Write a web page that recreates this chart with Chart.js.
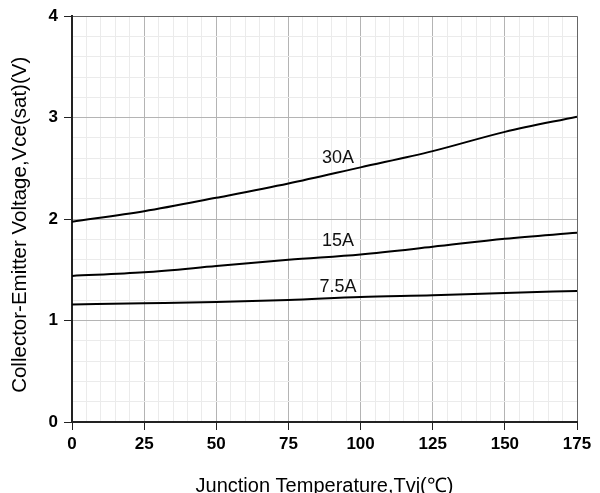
<!DOCTYPE html>
<html>
<head>
<meta charset="utf-8">
<script src="https://cdn.jsdelivr.net/npm/chart.js@4/dist/chart.umd.min.js"></script>
<style>
  html, body { margin: 0; padding: 0; background: #fff; }
  #wrap { width: 600px; height: 493px; }
</style>
</head>
<body>
<div id="wrap"><canvas id="vceChart"></canvas></div>
<script>
const temps = [0, 25, 50, 75, 100, 125, 150, 175];
const vce30A = [1.975, 2.077, 2.21, 2.35, 2.51, 2.67, 2.86, 3.01];
const vce15A = [1.44, 1.475, 1.537, 1.60, 1.652, 1.727, 1.806, 1.865];
const vce7A5 = [1.158, 1.17, 1.183, 1.203, 1.233, 1.249, 1.272, 1.292];
const seriesNames = ["30A", "15A", "7.5A"];
const labelX = [92.2, 92.2, 92.2];
const labelY = [2.606, 1.779, 1.331];

Chart.defaults.font.family = "'Liberation Sans', Arial, sans-serif";
Chart.defaults.color = "#000";

const toPoints = (ys) => temps.map((t, i) => ({ x: t, y: ys[i] }));

const isMajor = (v, step) => Math.abs(v / step - Math.round(v / step)) < 1e-6;

const curveLabels = {
	id: "curveLabels",
	afterDatasetsDraw(chart) {
		const { ctx, scales } = chart;
		ctx.save();
		ctx.font = "18px 'Liberation Sans', Arial, sans-serif";
		ctx.fillStyle = "#111";
		ctx.textAlign = "center";
		ctx.textBaseline = "middle";
		seriesNames.forEach((name, i) => {
			ctx.fillText(name, scales.x.getPixelForValue(labelX[i]), scales.y.getPixelForValue(labelY[i]));
		});
		ctx.restore();
	},
};

const lineStyle = {
	borderColor: "#000",
	borderWidth: 2,
	pointRadius: 0,
	tension: 0.4,
	cubicInterpolationMode: "monotone",
	fill: false,
};

new Chart("vceChart", {
	type: "line",
	data: {
		datasets: [
			{ label: "30A", data: toPoints(vce30A), ...lineStyle },
			{ label: "15A", data: toPoints(vce15A), ...lineStyle },
			{ label: "7.5A", data: toPoints(vce7A5), ...lineStyle },
		],
	},
	options: {
		responsive: true,
		maintainAspectRatio: false,
		animation: false,
		layout: { padding: { top: 15, right: 23, left: 0, bottom: 0 } },
		plugins: { legend: { display: false }, tooltip: { enabled: false } },
		scales: {
			x: {
				type: "linear",
				min: 0,
				max: 175,
				afterFit: (scale) => { scale.height = 71; },
				ticks: {
					stepSize: 5,
					autoSkip: false,
					maxRotation: 0,
					padding: 4,
					font: { size: 17, weight: "bold" },
					callback: (v) => (isMajor(v, 25) ? v : ""),
				},
				grid: {
					color: (c) => {
						const v = c.tick ? c.tick.value : 0;
						if (v === 175) return "#666";
						return isMajor(v, 25) ? "#b4b4b4" : "#ebebeb";
					},
					tickColor: (c) => (c.tick && isMajor(c.tick.value, 25) ? "#222" : "rgba(0,0,0,0)"),
					tickLength: 8,
					lineWidth: 1,
				},
				border: { color: "#222", width: 2 },
				title: {
					display: true,
					text: "Junction Temperature,Tvj(℃)",
					font: { size: 20 },
					padding: { top: 0, bottom: -5 },
				},
			},
			y: {
				min: 0,
				max: 4,
				afterFit: (scale) => { scale.width = 72; },
				ticks: {
					stepSize: 0.2,
					autoSkip: false,
					padding: 6,
					font: { size: 17, weight: "bold" },
					callback: (v) => (isMajor(v, 1) ? Math.round(v) : ""),
				},
				grid: {
					color: (c) => {
						const v = c.tick ? c.tick.value : 0;
						if (Math.abs(v - 4) < 1e-6) return "#666";
						return isMajor(v, 1) ? "#b4b4b4" : "#ebebeb";
					},
					tickColor: (c) => (c.tick && isMajor(c.tick.value, 1) ? "#222" : "rgba(0,0,0,0)"),
					tickLength: 8,
					lineWidth: 1,
				},
				border: { color: "#222", width: 2 },
				title: {
					display: true,
					// trailing spaces nudge the rotated title down a little, as in the original
					text: "Collector-Emitter Voltage,Vce(sat)(V)  ",
					font: { size: 20.5 },
					padding: { top: 8, bottom: 0 },
				},
			},
		},
	},
	plugins: [curveLabels],
});
</script>
</body>
</html>
